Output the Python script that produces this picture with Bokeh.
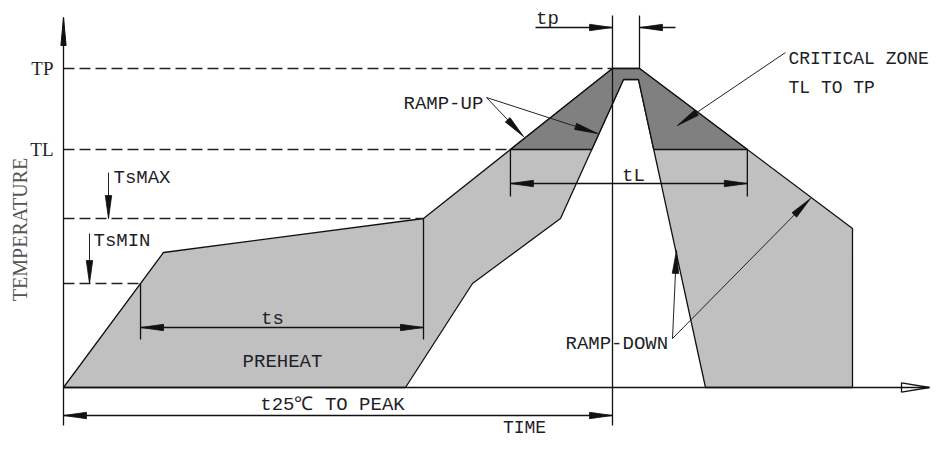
import numpy as np
from bokeh.plotting import figure
from bokeh.models import Range1d
from bokeh.embed import file_html
from bokeh.resources import INLINE
from bokeh.core.properties import value

# ---------------- data (schematic units: time, temperature) ----------------
level_names = ["TP", "TL", "TsMAX", "TsMIN"]
level_temps = [319, 238, 169, 104]

# upper (outer) edge of the reflow window
upper_time = [0, 100, 360, 549, 576, 789, 789]
upper_temp = [0, 135, 169, 319, 319, 159, 0]
# lower (inner) edge of the reflow window
lower_time = [342, 409, 497, 560, 575, 642]
lower_temp = [0, 104, 169, 308, 308, 0]

TP, TL, TSMAX, TSMIN = level_temps

# derived time marks (read from the profile)
rise_t, rise_T = upper_time[:4], upper_temp[:4]
ts_start = float(np.interp(TSMIN, rise_T, rise_t))
ts_end = float(np.interp(TSMAX, rise_T, rise_t))
tl_start = float(np.interp(TL, rise_T, rise_t))
tl_end = float(np.interp(TL, [upper_temp[5], upper_temp[4]], [upper_time[5], upper_time[4]]))
tp_start, tp_end = upper_time[3], upper_time[4]
in_left = float(np.interp(TL, lower_temp[:4], lower_time[:4]))
in_right = float(np.interp(TL, [lower_temp[5], lower_temp[4]], [lower_time[5], lower_time[4]]))

# ---------------- figure ----------------
p = figure(width=933, height=443, output_backend="svg", toolbar_location=None,
           x_range=Range1d(-63, 870), y_range=Range1d(-56, 387),
           x_axis_location=None, y_axis_location=None, min_border=0)
p.grid.visible = False
p.outline_line_color = None
p.background_fill_color = "white"

INK = "#111111"
TXT = "#1e1e28"
MONO = value("Liberation Mono")
SERIF = value("Liberation Serif")
X_END = 866

# full window (light gray)
poly_x = upper_time + lower_time[::-1]
poly_y = upper_temp + lower_temp[::-1]
p.patch(poly_x, poly_y, fill_color="#c0c0c0", line_color=INK, line_width=1.3)

# critical zone (dark gray)
dark_x = [tl_start, tp_start, tp_end, tl_end, in_right, lower_time[4], lower_time[3], in_left]
dark_y = [TL, TP, TP, TL, TL, lower_temp[4], lower_temp[3], TL]
p.patch(dark_x, dark_y, fill_color="#808080", line_color=INK, line_width=1.3)

# dashed level lines
p.segment(x0=[0] * 4, y0=level_temps, x1=[tp_start, tl_start, ts_end, ts_start], y1=level_temps,
          line_color="#222222", line_width=1.3, line_dash="11 5")

# solid construction lines
seg = [
    # axes
    (0, -38, 0, 370), (0, 0, X_END, 0),
    # tp extension lines and dimension
    (tp_start, -38, tp_start, 372), (tp_end, TP, tp_end, 372),
    (tp_start - 77, 360, tp_start, 360), (tp_end, 360, tp_end + 36, 360),
    # tL
    (tl_start, TL, tl_start, 191), (tl_end, TL, tl_end, 191), (tl_start, 204, tl_end, 204),
    # ts
    (ts_start, TSMIN, ts_start, 48), (ts_end, TSMAX, ts_end, 48), (ts_start, 60, ts_end, 60),
    # t25 to peak
    (0, -28, tp_start, -28),
]
p.segment(x0=[s[0] for s in seg], y0=[s[1] for s in seg], x1=[s[2] for s in seg], y1=[s[3] for s in seg],
          line_color=INK, line_width=1.3)

# leader lines
lead = [
    (45, 215, 45, TSMAX), (26, 154, 26, TSMIN),
    (423, 290, 460, 251), (423, 290, 534, 254),
    (722, 335, 614, 262),
    (609, 49, 613, 137), (609, 49, 747, 189),
]
p.segment(x0=[s[0] for s in lead], y0=[s[1] for s in lead], x1=[s[2] for s in lead], y1=[s[3] for s in lead],
          line_color="#222222", line_width=1.0)


def head(tx, ty, fx, fy, length=23.0, half=3.2):
    d = np.array([fx - tx, fy - ty], dtype=float)
    d /= np.hypot(*d)
    n = np.array([-d[1], d[0]])
    b = np.array([tx, ty]) + d * length
    return [tx, b[0] + n[0] * half, b[0] - n[0] * half], [ty, b[1] + n[1] * half, b[1] - n[1] * half]


heads = [
    (tp_start, 360, 0, 360), (tp_end, 360, 900, 360),
    (tl_start, 204, tl_end, 204), (tl_end, 204, tl_start, 204),
    (ts_start, 60, ts_end, 60), (ts_end, 60, ts_start, 60),
    (0, -28, tp_start, -28), (tp_start, -28, 0, -28),
] + [(s[2], s[3], s[0], s[1]) for s in lead]
hx, hy = [], []
for h in heads:
    a, b = head(*h)
    hx.append(a)
    hy.append(b)
p.patches(hx, hy, fill_color=INK, line_color=INK, line_width=0.8)

# y-axis arrow (filled, narrow) and x-axis arrow (hollow)
ax, ay = head(0, 370, 0, 0, length=28, half=2.6)
p.patch(ax, ay, fill_color=INK, line_color=INK, line_width=1)
bx, by = head(X_END, 0, 0, 0, length=28, half=4.6)
p.patch(bx, by, fill_color=None, line_color=INK, line_width=1.3)

# level labels
p.text(x=[-10, -10], y=[TP, TL], text=level_names[:2], text_font=SERIF, text_font_size="19px",
       text_align="right", text_baseline="middle", text_color=TXT)

# mono labels (left aligned)
lx = [50, 30, 340, 502]
ly = [210, 147, 284, 44]
lt = [level_names[2], level_names[3], "RAMP-UP", "RAMP-DOWN"]
p.text(x=lx, y=ly, text=lt, text_font=MONO, text_font_size="19px",
       text_align="left", text_baseline="middle", text_color=TXT)
p.text(x=[725, 725], y=[329, 300], text=["CRITICAL ZONE", "TL TO TP"], text_font=MONO,
       text_font_size="18px", text_align="left", text_baseline="middle", text_color=TXT)

# mono labels (centered)
cx = [484, 570, 209, 219, 269]
cy = [369, 212, 69, 26, -17]
ct = ["tp", "tL", "ts", "PREHEAT", "t25℃ TO PEAK"]
p.text(x=cx, y=cy, text=ct, text_font=MONO, text_font_size="19px",
       text_align="center", text_baseline="middle", text_color=TXT)
p.text(x=[461], y=[-40], text=["TIME"], text_font=MONO, text_font_size="18px",
       text_align="center", text_baseline="middle", text_color=TXT)

# vertical axis title
p.text(x=[-44], y=[158], text=["TEMPERATURE"], angle=np.pi / 2, text_font=SERIF, text_font_size="20px",
       text_align="center", text_baseline="middle", text_color="#555555")

open("out.html", "w").write(file_html(p, INLINE))
